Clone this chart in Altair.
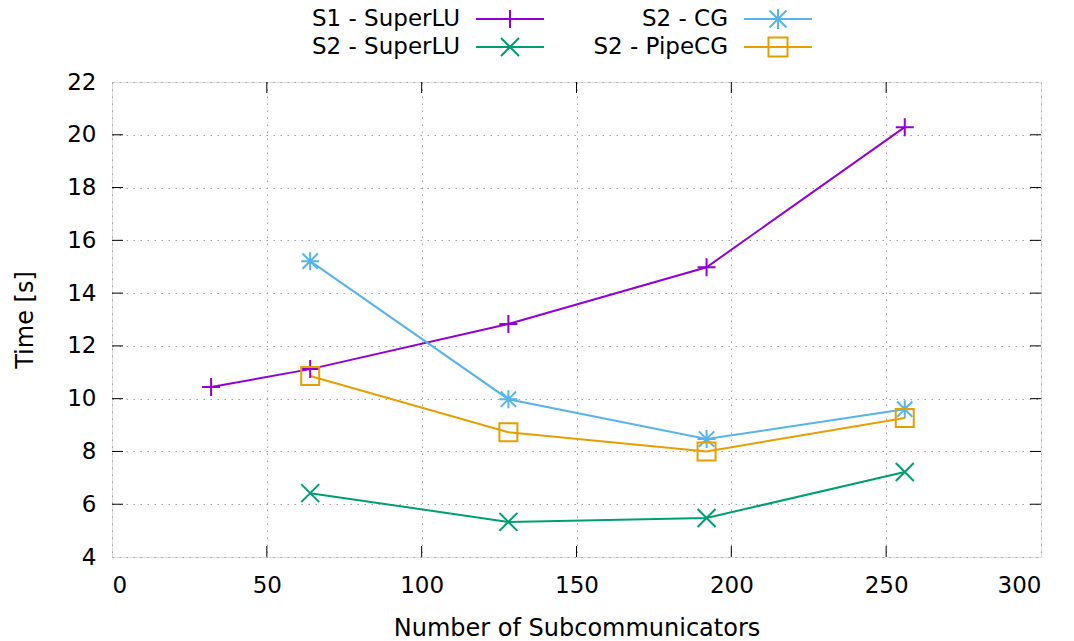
import altair as alt
import pandas as pd

# ---- data ----
series_names = ["S1 - SuperLU", "S2 - SuperLU", "S2 - CG", "S2 - PipeCG"]
series_colors = ["#9400D3", "#009E73", "#56B4E9", "#E69F00"]

s1_superlu_x = [32, 64, 128, 192, 256]
s1_superlu_y = [10.44, 11.12, 12.83, 14.98, 20.29]

s2_x = [64, 128, 192, 256]
s2_superlu_y = [6.42, 5.33, 5.48, 7.22]
s2_cg_y = [15.21, 9.98, 8.47, 9.60]
s2_pipecg_y = [10.86, 8.73, 8.00, 9.27]

x_ticks = [0, 50, 100, 150, 200, 250, 300]
y_ticks = [4, 6, 8, 10, 12, 14, 16, 18, 20, 22]

# marker shapes (gnuplot style)
PLUS = "M-1,0L1,0M0,-1L0,1"
CROSS = "M-1,-1L1,1M-1,1L1,-1"
STAR = "M-1,0L1,0M0,-1L0,1M-0.85,-0.85L0.85,0.85M-0.85,0.85L0.85,-0.85"
SQUARE = "M-1,-1L1,-1L1,1L-1,1Z"
shapes = [PLUS, CROSS, STAR, SQUARE]
sizes = [324, 324, 400, 361]

rows = []
for x, y in zip(s1_superlu_x, s1_superlu_y):
    rows.append({"series": series_names[0], "x": x, "y": y})
for name, ys in zip(series_names[1:], [s2_superlu_y, s2_cg_y, s2_pipecg_y]):
    for x, y in zip(s2_x, ys):
        rows.append({"series": name, "x": x, "y": y})
df = pd.DataFrame(rows)

W, H = 929, 475
FONT = "DejaVu Sans"
FS = 23
TFS = 24

xs = alt.Scale(domain=[0, 300], nice=False, zero=False)
ys = alt.Scale(domain=[4, 22], nice=False, zero=False)
color_scale = alt.Scale(domain=series_names, range=series_colors)
shape_scale = alt.Scale(domain=series_names, range=shapes)
size_scale = alt.Scale(domain=series_names, range=sizes)

base = alt.Chart(df)

xaxis = alt.Axis(values=x_ticks, ticks=False, tickSize=0, domain=False, grid=True,
                 gridColor="#a0a0a0", gridDash=[1.5, 5.5], gridWidth=1,
                 labelFont=FONT, labelFontSize=FS, labelColor="black", labelPadding=17,
                 title="Number of Subcommunicators", titleFont=FONT, titleFontSize=TFS,
                 titleFontWeight="normal", titleColor="black", titlePadding=19)
yaxis = alt.Axis(values=y_ticks, ticks=False, tickSize=0, domain=False, grid=True,
                 gridColor="#a0a0a0", gridDash=[1.5, 5.5], gridWidth=1,
                 labelFont=FONT, labelFontSize=FS, labelColor="black", labelPadding=16,
                 title="Time [s]", titleFont=FONT, titleFontSize=TFS,
                 titleFontWeight="normal", titleColor="black", titlePadding=29)

lines = base.mark_line(strokeWidth=2).encode(
    x=alt.X("x:Q", scale=xs, axis=xaxis),
    y=alt.Y("y:Q", scale=ys, axis=yaxis),
    color=alt.Color("series:N", scale=color_scale, legend=None),
    detail="series:N",
)

points = base.mark_point(filled=False, strokeWidth=2, opacity=1).encode(
    x=alt.X("x:Q", scale=xs),
    y=alt.Y("y:Q", scale=ys),
    color=alt.Color("series:N", scale=color_scale, legend=None),
    shape=alt.Shape("series:N", scale=shape_scale, legend=None),
    size=alt.Size("series:N", scale=size_scale, legend=None),
)

# inward tick marks on all four sides
TL = 11
xt = alt.Chart(pd.DataFrame({"v": x_ticks[1:-1]}))
yt = alt.Chart(pd.DataFrame({"v": y_ticks[1:-1]}))
tick_bottom = xt.mark_rule(color="black", strokeWidth=1).encode(
    x=alt.X("v:Q", scale=xs), y=alt.value(H), y2=alt.value(H - TL))
tick_top = xt.mark_rule(color="black", strokeWidth=1).encode(
    x=alt.X("v:Q", scale=xs), y=alt.value(0), y2=alt.value(TL))
tick_left = yt.mark_rule(color="black", strokeWidth=1).encode(
    y=alt.Y("v:Q", scale=ys), x=alt.value(0), x2=alt.value(TL))
tick_right = yt.mark_rule(color="black", strokeWidth=1).encode(
    y=alt.Y("v:Q", scale=ys), x=alt.value(W), x2=alt.value(W - TL))

# manual legend (gnuplot style: label, then line sample with marker)
one = alt.Chart(pd.DataFrame({"a": [0]}))
legend_layers = []
leg_pos = [(348, -63), (348, -35), (616, -63), (616, -35)]
for i, name in enumerate(series_names):
    tx, ty = leg_pos[i]
    legend_layers.append(one.mark_text(align="right", baseline="middle", font=FONT,
                                       fontSize=FS, color="black").encode(
        x=alt.value(tx), y=alt.value(ty), text=alt.value(name)))
    legend_layers.append(one.mark_rule(color=series_colors[i], strokeWidth=2).encode(
        x=alt.value(tx + 16), x2=alt.value(tx + 84), y=alt.value(ty)))
    legend_layers.append(one.mark_point(shape=shapes[i], size=sizes[i], filled=False,
                                        strokeWidth=2, opacity=1,
                                        color=series_colors[i]).encode(
        x=alt.value(tx + 50), y=alt.value(ty)))

chart = alt.layer(lines, tick_bottom, tick_top, tick_left, tick_right, points,
                  *legend_layers).properties(
    width=W, height=H,
    autosize=alt.AutoSizeParams(type="none"),
    padding={"left": 112, "top": 82, "right": 33, "bottom": 84},
).configure_view(stroke="black", strokeWidth=1.5).configure(background="white")

chart.save("out.html", embed_options={"renderer": "svg", "actions": False})
